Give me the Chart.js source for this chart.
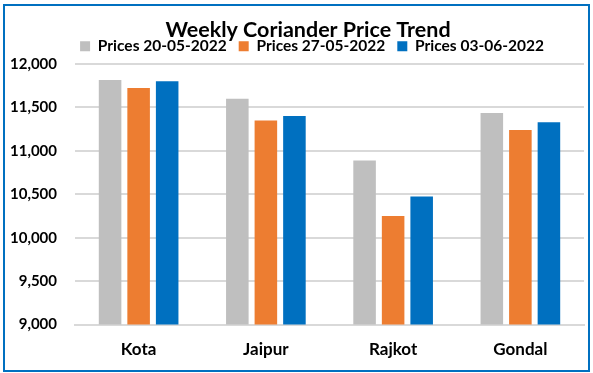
<!DOCTYPE html>
<html>
<head>
<meta charset="utf-8">
<script src="https://cdn.jsdelivr.net/npm/chart.js@4"></script>
<style>
  body { margin: 0; background: #fff; }
  #box {
    position: absolute; left: 3px; top: 4px;
    width: 583px; height: 364px;
    border: 2px solid #0070C0;
  }
</style>
</head>
<body>
<div id="box"><canvas id="priceChart" width="583" height="364"></canvas></div>
<script>
const markets = ['Kota', 'Jaipur', 'Rajkot', 'Gondal'];
const prices0520 = [11815, 11600, 10890, 11435];
const prices0527 = [11725, 11350, 10250, 11240];
const prices0603 = [11800, 11400, 10475, 11330];
const yTicks = [9000, 9500, 10000, 10500, 11000, 11500, 12000];

const fontName = 'Lato, "Open Sans", sans-serif';

function bars(label, data, color) {
  return {
    label: label,
    data: data,
    backgroundColor: color,
    categoryPercentage: 0.673,
    barPercentage: 0.79
  };
}

// the original has title and legend sitting a little right of centre
const nudgeHeader = {
  id: 'nudgeHeader',
  afterLayout(chart) {
    chart.titleBlock.left += 11;
    chart.titleBlock.right += 11;
    chart.legend.left += 15;
    chart.legend.right += 15;
  }
};

let ctx = document.getElementById('priceChart').getContext('2d');
new Chart(ctx, {
  type: 'bar',
  data: {
    labels: markets,
    datasets: [
      bars('Prices 20-05-2022', prices0520, '#BFBFBF'),
      bars('Prices 27-05-2022', prices0527, '#ED7D31'),
      bars('Prices 03-06-2022', prices0603, '#0070C0')
    ]
  },
  plugins: [nudgeHeader],
  options: {
    responsive: false,
    animation: false,
    layout: { padding: { left: 5, right: 4, top: 0, bottom: 3 } },
    plugins: {
      title: {
        display: true,
        text: 'Weekly Coriander Price Trend',
        color: '#000',
        font: { family: fontName, size: 21.5, weight: 'bold', lineHeight: 1 },
        padding: { top: 13.5, bottom: -14.5 }
      },
      legend: {
        position: 'top',
        labels: {
          color: '#000',
          font: { family: fontName, size: 15.5, weight: 'bold' },
          boxWidth: 10,
          boxHeight: 10,
          padding: 12
        }
      },
      tooltip: { enabled: false }
    },
    scales: {
      x: {
        grid: { display: false },
        border: { display: true, color: '#D9D9D9', width: 2 },
        ticks: {
          color: '#000',
          font: { family: fontName, size: 17, weight: 'bold' },
          padding: 7
        }
      },
      y: {
        min: 9000,
        max: 12000,
        afterBuildTicks: function (axis) {
          axis.ticks = yTicks.map(v => ({ value: v }));
        },
        afterFit: function (axis) {
          axis.width = 65;
        },
        grid: { color: '#D9D9D9', lineWidth: 2, drawTicks: false },
        border: { display: false },
        ticks: {
          color: '#000',
          font: { family: fontName, size: 15, weight: 'bold' },
          padding: 18,
          callback: v => v.toLocaleString('en-US')
        }
      }
    }
  }
});
</script>
</body>
</html>
